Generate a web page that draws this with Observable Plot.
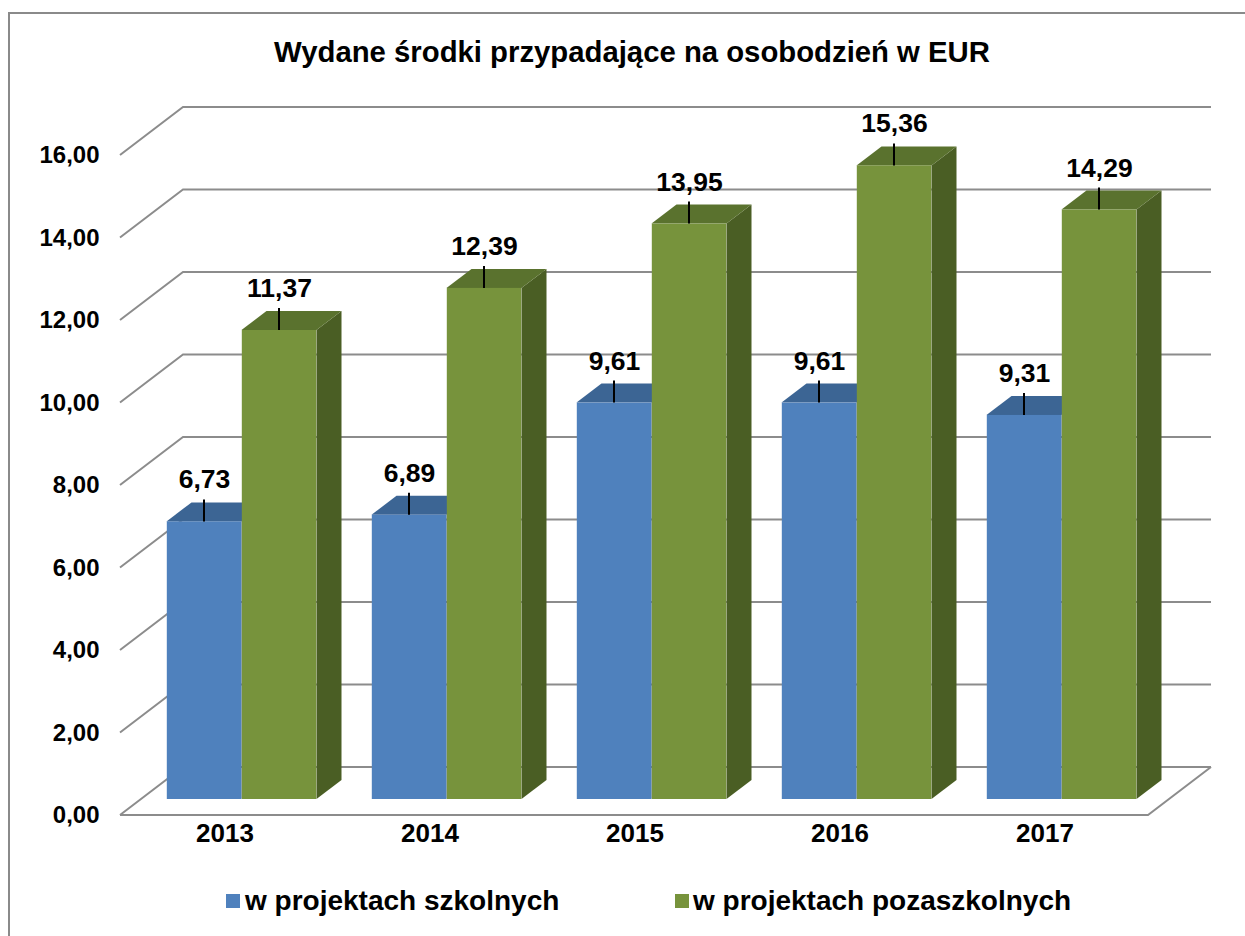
<!DOCTYPE html>
<html>
<head>
<meta charset="utf-8">
<script src="https://cdn.jsdelivr.net/npm/d3@7"></script>
<script src="https://cdn.jsdelivr.net/npm/@observablehq/plot@0.6"></script>
<style>
  html, body { margin: 0; padding: 0; background: #fff; overflow: hidden; }
  #wrap { position: relative; width: 1245px; height: 936px; overflow: hidden;
          font-family: "Liberation Sans", Arial, sans-serif; color: #000; }
  #frame { position: absolute; left: 8px; top: 12px; width: 1320px; height: 1000px;
           border: 2px solid #8a8a8a; box-sizing: border-box; }
  #title { position: relative; height: 90px; box-sizing: border-box; padding-top: 35px;
           padding-left: 19px; text-align: center; font-weight: bold; font-size: 29.3px; line-height: 33px; }
  #chart { position: relative; height: 770px; }
  #chart svg { display: block; overflow: visible; }
  #legend { position: relative; height: 76px; }
  .sw { position: absolute; width: 14px; height: 14px; top: 34px; }
  .lt { position: absolute; top: 25px; font-weight: bold; font-size: 28px; line-height: 32px; white-space: nowrap; }
</style>
</head>
<body>
<div id="wrap">
  <div id="frame"></div>
  <div id="title"></div>
  <div id="chart"></div>
  <div id="legend"></div>
</div>
<script>
// ---- data ----
const titleText = "Wydane środki przypadające na osobodzień w EUR";
const years = ["2013", "2014", "2015", "2016", "2017"];
const seriesNames = ["w projektach szkolnych", "w projektach pozaszkolnych"];
const szkolne = [6.73, 6.89, 9.61, 9.61, 9.31];
const pozaszkolne = [11.37, 12.39, 13.95, 15.36, 14.29];
const yTicks = [0, 2, 4, 6, 8, 10, 12, 14, 16];

// ---- styling / layout constants ----
const W = 1245, H = 770;
const M = {left: 120, right: 97, top: 65, bottom: 45};
const WALL = [63, 48];     // depth of the back wall (px)
const PLANE = [17, 16];    // offset of the bar front plane from the axis plane
const DEPTH = [25, 19];    // depth of each bar
const BAR_W = 75;
const LABEL_GAP = 42, LEADER = 22;
const colors = {
  front: ["#4F81BD", "#77933C"],
  top:   ["#3C6594", "#5A722E"],
  side:  ["#3A618F", "#4A5E24"]
};
const gridColor = "#8c8c8c";
const fmt = v => d3.format(".2f")(v).replace(".", ",");

const series = [szkolne, pozaszkolne];
const rows = series.map((vals, s) => years.map((year, i) => ({year, value: vals[i], s})));

const bw = (W - M.left - M.right) / years.length;

document.getElementById("title").textContent = titleText;

// back wall + floor gridlines
function gridMark(index, scales, values, dim) {
  const y = scales.y;
  const xl = dim.marginLeft, xr = dim.width - dim.marginRight;
  const g = d3.create("svg:g").attr("fill", "none").attr("stroke", gridColor).attr("stroke-width", 2);
  for (const t of yTicks) {
    const yy = y(t);
    g.append("polyline").attr("points",
      [[xl, yy], [xl + WALL[0], yy - WALL[1]], [xr + WALL[0], yy - WALL[1]]].join(" "));
  }
  const y0 = y(0);
  g.append("polyline").attr("points",
    [[xl, y0], [xr, y0], [xr + WALL[0], y0 - WALL[1]]].join(" "));
  return g.node();
}

// top and side faces of a series
function facesMark(s) {
  return (index, scales) => {
    const x = scales.x, y = scales.y;
    const b = x.bandwidth();
    const g = d3.create("svg:g");
    rows[s].forEach(d => {
      const cx = x(d.year) + b / 2 + PLANE[0];
      const x0 = s === 0 ? cx - BAR_W : cx;
      const x1 = x0 + BAR_W;
      const yt = y(d.value) - PLANE[1];
      const yb = y(0) - PLANE[1];
      g.append("polygon").attr("fill", colors.side[s]).attr("points",
        [[x1, yt], [x1 + DEPTH[0], yt - DEPTH[1]], [x1 + DEPTH[0], yb - DEPTH[1]], [x1, yb]].join(" "));
      g.append("polygon").attr("fill", colors.top[s]).attr("points",
        [[x0, yt], [x1, yt], [x1 + DEPTH[0], yt - DEPTH[1]], [x0 + DEPTH[0], yt - DEPTH[1]]].join(" "));
    });
    return g.node();
  };
}

// leader lines from bar top to label
function leaderMark(index, scales) {
  const x = scales.x, y = scales.y;
  const b = x.bandwidth();
  const g = d3.create("svg:g").attr("stroke", "#000").attr("stroke-width", 2);
  rows.forEach((r, s) => r.forEach(d => {
    const cx = x(d.year) + b / 2 + PLANE[0] + (s === 0 ? -BAR_W / 2 : BAR_W / 2);
    const yt = y(d.value) - PLANE[1];
    g.append("line").attr("x1", cx).attr("x2", cx).attr("y1", yt).attr("y2", yt - LEADER);
  }));
  return g.node();
}

const marks = [gridMark];
rows.forEach((r, s) => {
  marks.push(facesMark(s));
  marks.push(Plot.barY(r, {
    x: "year", y: "value", fill: colors.front[s],
    dx: PLANE[0], dy: -PLANE[1],
    insetLeft: s === 0 ? bw / 2 - BAR_W : bw / 2,
    insetRight: s === 0 ? bw / 2 : bw / 2 - BAR_W
  }));
});
marks.push(leaderMark);
rows.forEach((r, s) => {
  marks.push(Plot.text(r, {
    x: "year", y: "value", text: d => fmt(d.value),
    dx: PLANE[0] + (s === 0 ? -BAR_W / 2 : BAR_W / 2),
    dy: -PLANE[1] - LABEL_GAP,
    fontSize: 26.5, fontWeight: "bold", fill: "#000"
  }));
});
marks.push(Plot.axisY({ticks: yTicks, tickSize: 0, tickPadding: 21, tickFormat: fmt,
  fontSize: 24, fontWeight: "bold", label: null}));
marks.push(Plot.axisX({tickSize: 0, tickPadding: 8, fontSize: 26, fontWeight: "bold", label: null}));

const chart = Plot.plot({
  width: W, height: H,
  marginLeft: M.left, marginRight: M.right, marginTop: M.top, marginBottom: M.bottom,
  style: {fontFamily: "'Liberation Sans', Arial, sans-serif", fontWeight: "bold", color: "#000", background: "transparent", overflow: "visible"},
  x: {type: "band", domain: years, padding: 0, axis: null},
  y: {domain: [0, 16], axis: null},
  marks
});
document.getElementById("chart").appendChild(chart);

// legend
const legend = document.getElementById("legend");
const legendPos = [[226, 245], [675, 693]];
seriesNames.forEach((name, s) => {
  const sw = document.createElement("div");
  sw.className = "sw"; sw.style.left = legendPos[s][0] + "px"; sw.style.background = colors.front[s];
  legend.appendChild(sw);
  const t = document.createElement("div");
  t.className = "lt"; t.style.left = legendPos[s][1] + "px"; t.textContent = name;
  legend.appendChild(t);
});
</script>
</body>
</html>
